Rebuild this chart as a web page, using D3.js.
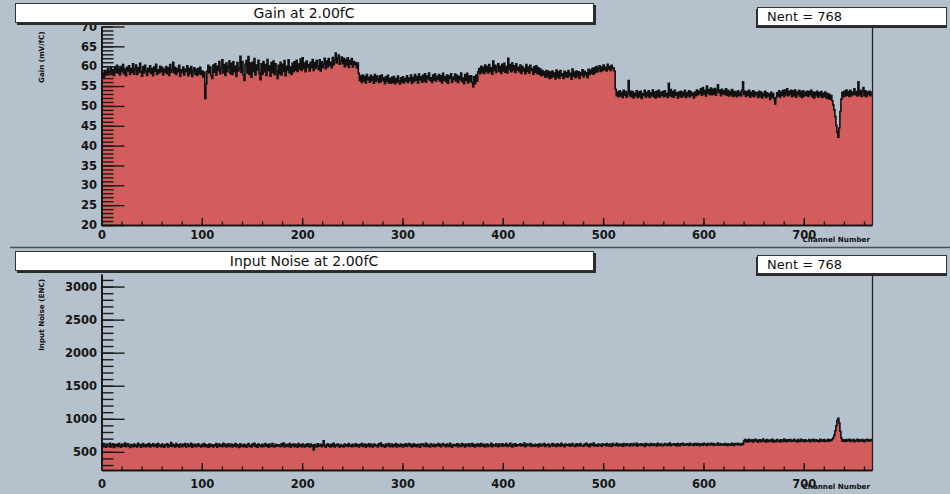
<!DOCTYPE html>
<html>
<head>
<meta charset="utf-8">
<script src="https://cdn.jsdelivr.net/npm/d3@7"></script>
<style>
  html, body { margin: 0; padding: 0; background: #b5c1cc; }
  svg { display: block; }
</style>
</head>
<body>
<svg id="chart" width="950" height="494"></svg>
<script>
// Gain per channel (mV/fC), channels 0..767
const gainValues = [
57.6,58.3,57.2,58.9,57.8,58.5,59.4,57.9,58.7,59.8,58.2,59.1,57.7,59.6,58.4,60.2,
58.3,59.5,57.8,59.9,58.6,60.4,58.1,59.3,57.6,59.7,58.8,60.1,57.9,59.4,58.5,60.6,
58.0,59.2,60.3,57.9,59.6,58.4,60.7,58.8,57.5,59.9,58.3,60.2,58.9,57.7,59.5,58.6,
60.1,58.2,59.4,57.6,59.8,58.7,60.5,57.9,59.1,58.3,60.0,58.6,59.7,57.8,59.3,58.5,
59.9,58.1,59.6,57.7,60.4,58.5,59.2,61.0,58.3,59.7,57.9,59.4,58.6,60.2,57.5,59.1,
58.4,59.8,57.8,59.3,58.7,60.1,57.6,59.5,58.2,59.9,57.4,58.9,59.6,58.0,59.2,57.7,
59.4,58.1,59.7,57.9,58.8,57.3,58.5,51.9,55.6,58.7,60.2,58.3,59.8,57.6,56.9,60.3,
58.5,60.6,57.8,60.0,58.9,61.2,58.1,59.5,61.6,58.3,60.4,57.7,60.8,58.6,59.9,61.3,
58.2,60.7,57.9,61.1,58.6,60.0,57.4,60.9,58.8,59.6,62.5,58.4,61.2,57.8,56.4,60.5,
61.4,58.3,62.4,57.9,60.8,57.2,61.0,58.7,61.9,57.8,60.3,59.1,61.5,58.2,56.6,60.6,
58.0,61.2,58.6,60.4,57.7,61.7,58.9,60.1,57.5,60.9,58.4,61.3,57.9,60.6,58.8,56.9,
60.2,58.1,61.0,57.8,60.5,58.7,61.4,57.6,60.0,58.9,61.6,58.3,59.8,57.9,60.7,58.6,
61.1,59.0,61.5,58.7,60.6,59.3,61.8,58.9,62.1,59.4,60.8,58.6,61.3,59.7,60.4,58.8,
61.0,59.6,61.7,58.9,60.9,59.5,61.4,60.0,59.2,61.6,58.8,61.1,59.7,60.5,62.0,59.4,
61.3,59.8,61.9,60.2,61.0,59.6,62.2,60.4,61.6,63.3,60.8,62.0,62.8,60.5,61.4,62.3,
60.6,62.0,59.9,61.7,60.3,62.1,59.7,61.4,60.5,61.9,59.8,61.2,60.4,60.9,59.6,60.8,
58.2,56.4,57.6,55.9,57.8,56.3,57.4,55.8,57.9,56.6,57.2,56.0,57.7,56.5,57.3,55.7,
57.9,56.2,57.5,56.8,55.9,57.6,56.1,57.8,56.4,57.0,55.6,57.3,56.2,57.7,55.8,56.9,
55.7,57.2,56.0,57.4,55.6,56.8,55.9,57.5,56.3,55.5,57.1,56.0,57.3,55.8,56.9,56.2,
57.6,55.9,57.0,56.4,57.8,55.7,57.2,56.1,57.9,56.5,57.4,55.8,58.0,56.6,57.3,56.0,
57.7,56.2,58.1,56.0,57.5,56.8,58.3,56.4,57.1,55.9,57.8,56.5,58.0,56.2,57.4,56.7,
57.9,56.3,57.6,55.8,58.2,56.5,57.3,56.1,57.8,55.7,57.5,56.9,58.1,56.0,57.2,56.6,
58.0,56.3,57.7,55.9,57.4,56.6,58.3,56.1,57.0,55.6,57.9,56.4,58.2,55.8,57.5,56.2,
57.6,55.9,54.8,57.3,55.6,57.8,56.2,58.6,59.4,58.1,60.0,58.5,59.7,58.2,60.3,58.7,
59.9,58.3,60.4,58.6,59.6,58.0,61.3,58.9,60.2,58.4,59.8,60.6,58.7,60.0,58.2,60.5,
58.8,60.7,58.5,59.9,58.3,62.0,59.1,60.4,58.6,60.8,58.9,60.1,58.4,60.6,59.0,59.7,
58.6,60.3,58.2,60.0,58.8,59.5,58.1,60.4,58.7,59.8,58.3,60.2,58.9,59.4,58.0,59.9,
58.5,60.1,58.2,59.6,58.0,59.3,57.6,58.9,57.8,58.6,57.2,58.9,57.4,58.7,56.9,58.5,
57.1,58.8,57.5,58.3,56.8,59.0,57.3,58.6,57.0,58.9,57.6,58.1,56.9,58.7,57.4,58.4,
57.2,58.9,57.6,58.2,56.7,59.3,57.5,58.5,57.1,58.8,57.4,58.6,56.9,58.4,57.8,59.1,
57.3,58.7,57.8,58.4,57.1,59.2,57.9,59.0,58.2,59.5,58.0,59.6,58.4,59.9,58.6,59.4,
60.1,58.7,59.8,58.9,60.3,59.1,59.7,58.8,60.5,59.3,59.9,58.9,60.2,59.4,59.6,58.8,
54.2,52.6,53.5,52.3,53.8,52.5,53.4,52.1,53.9,52.7,53.6,52.2,53.3,56.4,52.6,53.7,
52.3,53.6,52.0,53.2,52.6,53.8,52.1,53.5,52.4,53.7,51.9,53.1,52.7,53.9,52.2,53.4,
52.5,53.8,52.1,53.3,52.6,54.0,52.3,53.5,52.0,53.7,52.4,53.9,52.2,53.4,52.7,53.6,
52.3,53.8,52.5,53.2,52.1,55.7,52.6,54.1,52.4,53.6,52.2,53.9,52.7,53.3,52.0,53.5,
52.4,53.7,52.2,53.4,52.6,53.9,52.1,53.3,52.5,53.8,52.3,53.6,52.7,53.2,52.0,53.5,
52.6,54.0,52.8,53.7,53.1,54.3,52.7,54.6,53.0,53.9,52.5,55.0,53.2,54.1,52.9,54.5,
52.8,54.2,53.0,54.4,52.7,53.9,55.3,53.3,54.0,52.6,54.2,53.1,53.8,52.9,54.3,52.7,
53.9,52.5,53.6,52.8,54.1,52.4,53.7,52.6,53.5,52.3,53.8,52.7,53.4,52.5,53.9,56.1,
52.9,53.7,52.4,53.6,52.7,53.9,52.2,53.4,52.6,53.8,52.3,53.5,52.8,53.3,52.1,53.7,
52.4,53.5,52.0,53.2,52.6,53.7,52.1,53.3,52.5,53.0,51.6,53.4,52.2,53.1,51.9,50.5,
52.1,53.3,52.5,53.8,52.2,53.5,52.7,53.9,52.4,54.0,52.8,54.3,52.6,53.7,52.9,53.9,
52.3,53.8,52.6,54.0,52.2,53.5,52.8,53.9,52.4,53.6,52.1,53.8,52.5,53.4,52.7,53.7,
52.4,53.6,52.8,53.9,52.3,53.5,52.0,53.4,52.6,53.7,52.2,53.3,52.5,53.6,52.1,53.2,
52.4,53.5,52.0,53.1,51.8,52.9,51.7,52.6,51.3,50.2,49.0,47.3,45.1,43.4,42.1,44.5,
48.6,51.7,53.4,52.3,53.7,52.5,54.0,52.7,53.6,52.4,53.9,52.6,53.5,52.9,54.3,52.8,
53.6,52.5,56.1,52.8,53.9,52.4,53.7,54.6,52.6,53.8,52.3,53.5,52.9,53.7,52.6,53.4
];

// Input noise per channel (ENC), channels 0..767
const noiseValues = [
612,578,625,590,570,618,596,583,630,575,601,620,568,609,588,615,
580,626,593,571,617,598,584,632,577,605,622,589,566,611,595,579,
619,586,603,574,628,592,610,569,597,624,583,606,576,615,590,627,
573,608,594,621,580,599,614,571,625,587,603,578,618,592,570,611,
596,622,575,607,585,640,580,613,593,572,624,588,605,569,617,598,
578,612,590,626,574,603,619,582,596,628,571,609,587,615,577,600,
621,584,598,572,613,590,627,576,606,594,569,618,582,610,596,574,
608,591,625,570,600,616,585,603,577,630,589,612,574,597,621,583,
594,617,572,606,588,625,579,611,596,568,620,585,603,576,614,590,
570,608,627,583,599,574,616,592,629,580,605,571,618,589,602,577,
612,576,598,624,585,607,571,619,594,581,626,590,575,613,599,584,
606,592,578,621,587,633,574,600,615,582,597,627,570,609,593,618,
579,614,596,571,624,588,605,577,618,593,572,610,586,622,598,575,
616,583,602,528,609,591,574,620,586,599,613,578,604,665,592,571,
601,620,584,607,575,614,590,629,573,603,588,617,595,570,611,586,
598,572,619,593,606,580,624,587,601,576,615,595,582,621,590,608,
575,609,592,626,583,600,618,571,605,589,623,578,612,596,574,617,
610,587,600,574,621,596,631,582,607,592,570,616,588,603,625,579,
593,618,576,605,589,624,572,611,597,583,619,600,574,609,590,622,
581,604,627,590,612,575,598,620,586,607,578,615,595,570,618,601,
617,583,596,628,580,609,592,573,621,599,586,613,577,605,594,624,
588,612,579,603,625,591,608,576,619,597,582,630,594,571,610,596,
605,590,621,577,614,598,583,626,592,609,574,617,601,588,623,580,
596,627,585,610,573,604,619,590,612,580,625,599,586,615,572,608,
618,582,604,592,629,576,611,598,587,622,594,577,616,603,590,620,
585,611,597,624,581,606,590,628,600,575,613,592,621,584,607,598,
603,620,588,609,594,632,578,604,617,591,599,626,582,611,596,586,
614,591,606,578,623,599,589,615,597,627,583,608,595,619,576,604,
592,625,587,613,600,582,620,596,611,586,628,598,607,579,616,601,
609,595,618,584,606,627,591,602,580,622,598,613,589,625,600,594,
585,616,603,629,592,608,579,620,605,595,632,588,610,599,584,618,
613,598,586,621,604,611,593,626,601,589,617,607,582,624,599,610,
596,628,605,590,619,600,613,585,627,608,594,622,603,615,589,620,
610,591,624,606,598,630,587,612,604,621,595,617,609,583,626,600,
618,603,592,627,609,596,621,605,615,590,629,607,598,620,611,594,
602,625,610,597,618,604,631,592,613,606,622,599,616,589,627,608,
594,620,607,628,600,615,603,623,610,596,630,612,605,619,598,624,
617,601,625,609,593,621,614,602,628,606,618,597,624,611,603,629,
608,626,596,619,612,604,633,610,599,622,607,615,601,627,613,598,
621,605,614,600,628,611,596,625,617,606,630,609,619,603,624,612,
662,684,655,677,648,690,668,657,681,650,672,688,659,679,646,674,
681,653,670,692,660,676,648,685,666,656,679,662,689,651,673,668,
655,687,664,675,649,683,670,658,694,661,677,652,680,667,686,657,
676,659,688,663,672,650,684,669,656,691,665,678,654,682,670,660,
663,685,652,679,668,690,657,674,683,661,671,655,688,666,677,659,
684,658,676,665,689,662,680,672,690,712,752,818,895,972,1008,935,
812,708,661,682,670,656,687,664,675,690,658,679,667,685,653,676,
669,688,657,680,672,661,686,667,654,683,671,690,662,677,668,684
];

// Axis tick values
const channelMajorTicks = [0, 100, 200, 300, 400, 500, 600, 700];
const channelMinorTicks = d3.range(0, 761, 20);
const gainMajorTicks = [20, 25, 30, 35, 40, 45, 50, 55, 60, 65, 70];
const gainMinorTicks = d3.range(20, 70.5, 1);
const noiseMajorTicks = [500, 1000, 1500, 2000, 2500, 3000];
const noiseMinorTicks = d3.range(300, 3101, 100);

const svg = d3.select("#chart");
const FONT = "'DejaVu Sans', 'Liberation Sans', sans-serif";
const FILL = "#d35d5d";

function drawPad(cfg) {
  const g = svg.append("g").attr("transform", `translate(0,${cfg.top})`);

  const x = d3.scaleLinear().domain([0, 768]).range([101.5, 872]);
  const y = d3.scaleLinear().domain(cfg.domain).range([cfg.frameBottom, cfg.frameTop]);

  // histogram bins as step points (last point closes the final bin)
  const pts = cfg.values.map((v, i) => [i, v]);
  pts.push([cfg.values.length, cfg.values[cfg.values.length - 1]]);

  const area = d3.area()
    .curve(d3.curveStepAfter)
    .x(d => x(d[0]))
    .y0(y(cfg.domain[0]))
    .y1(d => y(d[1]));
  const line = d3.line()
    .curve(d3.curveStepAfter)
    .x(d => x(d[0]))
    .y(d => y(d[1]));

  g.append("path").attr("d", area(pts)).attr("fill", FILL);
  g.append("path").attr("d", line(pts))
    .attr("fill", "none").attr("stroke", "#111").attr("stroke-width", 1.6)
    .attr("stroke-linejoin", "miter");

  // right edge of the frame
  g.append("line")
    .attr("x1", 872.5).attr("x2", 872.5)
    .attr("y1", cfg.frameTop).attr("y2", cfg.frameBottom)
    .attr("stroke", "#222").attr("stroke-width", 1.3);

  // y axis: minor then major ticks, drawn inward
  const yMinor = d3.axisLeft(y).tickValues(cfg.minorTicks).tickSize(-12).tickSizeOuter(0).tickFormat("");
  const yMajor = d3.axisLeft(y).tickValues(cfg.majorTicks).tickSize(-23).tickSizeOuter(0).tickPadding(4.5)
    .tickFormat(d3.format("d"));
  const ga1 = g.append("g").attr("transform", "translate(101.5,0)").call(yMinor);
  const ga2 = g.append("g").attr("transform", "translate(101.5,0)").call(yMajor);
  [ga1, ga2].forEach(a => {
    a.selectAll("path.domain").attr("stroke", "#111").attr("stroke-width", 1.5);
    a.selectAll(".tick line").attr("stroke", "#1a1a1a").attr("stroke-width", 1.4);
  });
  ga2.selectAll("text")
    .attr("font-family", FONT).attr("font-size", 11.5).attr("fill", "#151515")
    .attr("font-weight", "bold");

  // x axis: ticks point up into the frame
  const xMinor = d3.axisBottom(x).tickValues(channelMinorTicks).tickSize(-3.5).tickSizeOuter(0).tickFormat("");
  const xMajor = d3.axisBottom(x).tickValues(channelMajorTicks).tickSize(-7).tickSizeOuter(0)
    .tickPadding(cfg.xLabelPad).tickFormat(d3.format("d"));
  const gx1 = g.append("g").attr("transform", `translate(0,${cfg.frameBottom})`).call(xMinor);
  const gx2 = g.append("g").attr("transform", `translate(0,${cfg.frameBottom})`).call(xMajor);
  [gx1, gx2].forEach(a => {
    a.selectAll("path.domain").attr("stroke", "#111").attr("stroke-width", 1.5);
    a.selectAll(".tick line").attr("stroke", "#1a1a1a").attr("stroke-width", 1.4);
  });
  gx2.selectAll("text")
    .attr("font-family", FONT).attr("font-size", 11.5).attr("fill", "#151515")
    .attr("font-weight", "bold");

  // axis titles
  g.append("text")
    .attr("x", 870).attr("y", cfg.xTitleY)
    .attr("text-anchor", "end")
    .attr("font-family", FONT).attr("font-size", 7.2).attr("font-weight", "bold").attr("fill", "#111")
    .text("Channel Number");
  g.append("text")
    .attr("transform", `translate(44,${cfg.frameTop + 5}) rotate(-90)`)
    .attr("text-anchor", "end")
    .attr("font-family", FONT).attr("font-size", 7.2).attr("font-weight", "bold").attr("fill", "#111")
    .text(cfg.yTitle);

  // title box with shadow
  g.append("rect").attr("x", 17).attr("y", 5).attr("width", 579).attr("height", 20).attr("fill", "#2a2a2a");
  g.append("rect").attr("x", 15.5).attr("y", 3.5).attr("width", 578).attr("height", 19)
    .attr("fill", "#fff").attr("stroke", "#333").attr("stroke-width", 1);
  g.append("text")
    .attr("x", 304).attr("y", 18)
    .attr("text-anchor", "middle")
    .attr("font-family", FONT).attr("font-size", 14).attr("fill", "#111")
    .text(cfg.title);

  // entries box
  g.append("rect").attr("x", 756).attr("y", 9).attr("width", 191).attr("height", 19).attr("fill", "#2a2a2a");
  g.append("rect").attr("x", 757.5).attr("y", 7.5).attr("width", 189).attr("height", 18)
    .attr("fill", "#fff").attr("stroke", "#333").attr("stroke-width", 1);
  g.append("text")
    .attr("x", 767).attr("y", 21)
    .attr("font-family", FONT).attr("font-size", 13).attr("fill", "#111")
    .text("Nent = " + cfg.values.length);
}

drawPad({
  top: 0,
  values: gainValues,
  domain: [20, 70],
  frameTop: 26.5,
  frameBottom: 225,
  majorTicks: gainMajorTicks,
  minorTicks: gainMinorTicks,
  xLabelPad: 6,
  xTitleY: 242,
  title: "Gain at 2.00fC",
  yTitle: "Gain (mV/fC)"
});

// separator between the two pads
svg.append("line").attr("x1", 10).attr("x2", 950).attr("y1", 247.5).attr("y2", 247.5)
  .attr("stroke", "#4a525a").attr("stroke-width", 1.5);

drawPad({
  top: 248,
  values: noiseValues,
  domain: [225, 3190],
  frameTop: 26,
  frameBottom: 222,
  majorTicks: noiseMajorTicks,
  minorTicks: noiseMinorTicks,
  xLabelPad: 10,
  xTitleY: 241,
  title: "Input Noise at 2.00fC",
  yTitle: "Input Noise (ENC)"
});
</script>
</body>
</html>
